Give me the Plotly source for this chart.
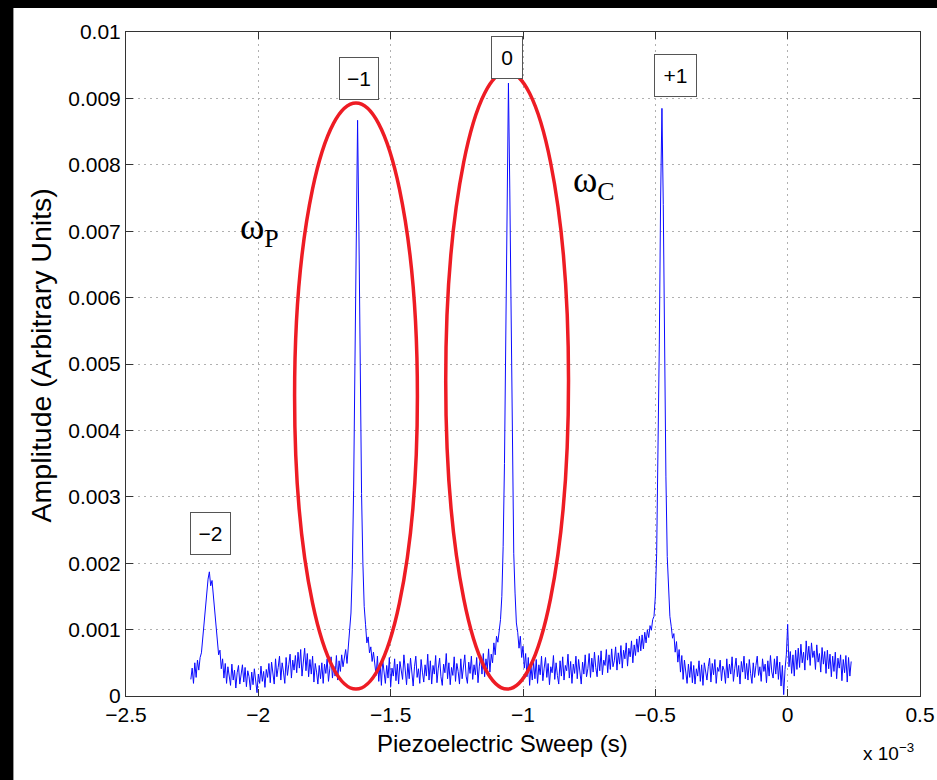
import numpy as np
import plotly.graph_objects as go

# ---------------- data ----------------
# sweep axis sampling (units of 1e-3 s)
x_start = -2.255
x_step = 0.005

# amplitude, in units of 1e-4 (arbitrary units)
amp_e4 = [
    2.5, 4.2, 1.9, 5.0, 2.8, 5.4, 3.9, 5.8, 6.5, 8.7, 11.0, 13.8, 16.0, 17.6, 18.7, 16.6, 17.4, 15.2, 12.6, 10.0,
    8.0, 6.2, 6.9, 4.1, 5.6, 2.7, 4.9, 1.9, 4.4, 3.1, 1.6, 4.8, 2.4, 3.9, 1.2, 3.5, 4.6, 1.8, 3.0, 4.7,
    2.1, 4.3, 1.4, 3.8, 2.9, 0.9, 3.6, 1.7, 4.1, 2.5, 0.5, 3.3, 1.9, 4.5, 2.2, 3.7, 1.3, 4.0, 2.8, 4.9,
    2.0, 5.1, 3.3, 1.8, 5.6, 2.9, 4.3, 6.0, 2.4, 5.0, 3.6, 1.9, 5.8, 3.1, 4.7, 6.3, 2.7, 5.4, 3.9, 6.1,
    3.5, 6.6, 4.2, 7.0, 3.0, 5.9, 7.2, 3.8, 6.4, 2.9, 5.5, 3.3, 6.0, 2.1, 4.9, 3.6, 1.8, 4.6, 2.6, 5.0,
    1.9, 4.8, 3.4, 5.6, 2.2, 4.1, 5.9, 2.7, 4.5, 3.0, 6.1, 2.4, 5.3, 3.7, 6.2, 4.4, 5.5, 7.0, 4.9, 7.6,
    9.0, 12.5, 19.0, 31.0, 50.0, 72.0, 86.7, 70.0, 49.0, 30.5, 20.0, 13.5, 10.8, 8.0, 8.9, 6.5, 7.4, 5.2, 6.6, 4.5,
    3.1, 6.0, 2.2, 4.9, 1.6, 5.4, 3.5, 1.9, 4.6, 2.7, 5.8, 1.4, 4.2, 3.0, 5.6, 2.3, 4.8, 1.8, 5.2, 3.4,
    2.5, 6.2, 3.8, 1.7, 4.9, 2.6, 5.7, 3.2, 1.5, 4.4, 6.0, 2.8, 4.1, 1.9, 5.5, 3.6, 2.1, 4.7, 3.0, 6.3,
    2.4, 5.3, 1.8, 4.6, 3.3, 6.1, 2.0, 4.2, 5.7, 2.9, 1.6, 4.8, 3.5, 6.4, 2.6, 5.0, 1.7, 4.3, 3.1, 5.9,
    2.2, 4.9, 3.7, 1.8, 5.6, 2.6, 4.4, 6.2, 3.0, 1.9, 5.1, 3.4, 6.0, 2.5, 4.7, 3.2, 5.8, 2.0, 4.5, 6.1,
    3.3, 6.4, 2.9, 5.6, 4.0, 7.1, 3.6, 6.3, 5.0, 8.0, 6.2, 9.0, 8.1, 10.2, 11.5, 15.0, 22.5, 35.0, 55.0, 78.0,
    92.3, 76.5, 54.0, 34.0, 21.5, 15.5, 11.0, 9.6, 7.2, 9.0, 5.8, 7.5, 4.2, 6.4, 2.9, 5.8, 1.6, 4.5, 2.4, 5.1,
    2.6, 5.5, 1.9, 4.7, 3.2, 6.0, 2.3, 4.2, 5.8, 2.8, 4.9, 1.7, 4.4, 3.5, 6.1, 2.5, 5.0, 3.1, 1.8, 5.3,
    3.0, 5.9, 2.4, 4.6, 3.8, 6.3, 2.7, 5.2, 1.9, 4.8, 3.4, 6.0, 2.6, 5.5, 3.9, 1.8, 5.1, 3.3, 6.2, 2.9,
    4.1, 6.4, 2.8, 5.7, 3.6, 6.6, 4.3, 2.9, 6.1, 3.8, 6.8, 3.2, 5.4, 4.6, 7.0, 3.5, 6.2, 4.0, 7.1, 4.4,
    5.3, 7.4, 3.9, 6.5, 4.8, 7.6, 4.2, 6.9, 5.6, 8.0, 4.5, 7.2, 5.9, 8.3, 5.0, 7.7, 6.1, 8.6, 6.6, 9.0,
    6.8, 9.2, 7.1, 9.6, 8.0, 10.0, 8.8, 10.6, 9.9, 11.5, 12.0, 15.0, 21.5, 34.0, 53.0, 75.0, 88.5, 74.0, 52.0, 33.0,
    21.0, 15.0, 12.0, 10.5, 8.7, 9.4, 6.6, 8.2, 5.1, 7.0, 3.6, 6.1, 2.5, 5.4, 3.3, 1.9, 4.8, 2.8, 5.2, 2.0,
    4.6, 1.8, 4.1, 3.0, 5.3, 2.2, 4.7, 1.6, 5.0, 3.5, 2.4, 4.4, 5.7, 2.1, 4.9, 3.2, 5.5, 1.9, 4.3, 3.7,
    5.4, 2.3, 4.5, 3.9, 1.9, 5.6, 2.7, 4.8, 3.3, 5.9, 2.2, 4.1, 5.7, 2.9, 4.6, 1.8, 5.2, 3.6, 6.0, 2.6,
    4.9, 2.4, 5.5, 3.4, 1.9, 5.0, 2.8, 4.6, 6.0, 3.1, 4.4, 2.2, 5.6, 3.7, 4.8, 2.0, 5.3, 3.0, 6.1, 3.6,
    2.7, 5.6, 3.3, 6.0, 2.5, 5.1, 1.5, 4.6, 0.2, 4.0, 6.2, 10.8, 4.4, 6.7, 3.4, 6.2, 3.0, 6.9, 4.0, 7.2,
    4.3, 7.8, 5.0, 6.6, 3.9, 8.3, 5.4, 7.5, 4.6, 8.0, 5.8, 6.8, 4.0, 7.7, 5.1, 6.4, 3.6, 7.3, 4.8, 6.7,
    3.4, 6.9, 4.1, 6.3, 2.9, 6.0, 3.7, 6.6, 2.6, 5.7, 4.2, 6.2, 2.3, 5.5, 3.5, 6.1, 2.1, 5.8, 3.0, 5.2,
]

x_ticks = [-2.5, -2, -1.5, -1, -0.5, 0, 0.5]
x_ticklabels = ["−2.5", "−2", "−1.5", "−1", "−0.5", "0", "0.5"]
y_ticks = [0, 0.001, 0.002, 0.003, 0.004, 0.005, 0.006, 0.007, 0.008, 0.009, 0.01]
y_ticklabels = ["0", "0.001", "0.002", "0.003", "0.004", "0.005",
                "0.006", "0.007", "0.008", "0.009", "0.01"]

peak_labels = ["−2", "−1", "0", "+1"]
peak_label_x = [-2.181, -1.620, -1.061, -0.424]
peak_label_y = [0.00245, 0.0093, 0.00962, 0.00935]
peak_label_w = [25, 24, 16, 27]

ellipse_x0 = [-1.863, -1.292]
ellipse_x1 = [-1.399, -0.828]
ellipse_y0 = [0.000105, 0.000105]
ellipse_y1 = [0.00893, 0.0094]

omega_labels = ["ω<sub>P</sub>", "ω<sub>C</sub>"]
omega_x = [-1.994, -0.732]
omega_y = [0.00703, 0.00774]

# ---------------- figure ----------------
x_vals = np.round(x_start + x_step * np.arange(len(amp_e4)), 3)
amp = np.array(amp_e4) * 1e-4

K = 947 / 937          # horizontal compensation for the capture
W, H = 947, 780
ML, MT, MB = 126, 32, 84
MR = W - 929
PW, PH = W - ML - MR, H - MT - MB


def px(p):
    return (p * K - ML) / PW


def py(p):
    return (H - MB - p) / PH


fig = go.Figure()
fig.add_trace(go.Scatter(x=x_vals, y=amp, mode="lines",
                         line=dict(color="#0a0aff", width=1),
                         showlegend=False, hoverinfo="skip"))

shapes = []
for a, b, c, d in zip(ellipse_x0, ellipse_x1, ellipse_y0, ellipse_y1):
    shapes.append(dict(type="circle", xref="x", yref="y", x0=a, x1=b, y0=c, y1=d,
                       line=dict(color="#ee1c24", width=3.5), layer="above"))
# black surround of the original screenshot
shapes.append(dict(type="rect", xref="paper", yref="paper",
                   x0=px(-2), x1=px(12), y0=py(H + 2), y1=py(-2),
                   fillcolor="black", line=dict(width=0), layer="above"))
shapes.append(dict(type="rect", xref="paper", yref="paper",
                   x0=px(-2), x1=px(W + 12), y0=py(8), y1=py(-2),
                   fillcolor="black", line=dict(width=0), layer="above"))

ann = []
for t, xx, yy, ww in zip(peak_labels, peak_label_x, peak_label_y, peak_label_w):
    ann.append(dict(x=xx, y=yy, xref="x", yref="y", text=t, showarrow=False,
                    font=dict(family="Liberation Sans", size=21, color="black"),
                    bordercolor="#555", borderwidth=1, borderpad=7,
                    width=ww, height=27, bgcolor="white",
                    xanchor="center", yanchor="middle"))
for t, xx, yy in zip(omega_labels, omega_x, omega_y):
    ann.append(dict(x=xx, y=yy, xref="x", yref="y", text=t, showarrow=False,
                    font=dict(family="Liberation Serif", size=37, color="black"),
                    xanchor="center", yanchor="middle"))
ann.append(dict(x=px(40), y=py(355), xref="paper", yref="paper",
                text="Amplitude (Arbitrary Units)", textangle=-90, showarrow=False,
                font=dict(family="Liberation Sans", size=28.5, color="black"),
                xanchor="center", yanchor="middle"))
ann.append(dict(x=px(501), y=py(743), xref="paper", yref="paper",
                text="Piezoelectric Sweep (s)", showarrow=False,
                font=dict(family="Liberation Sans", size=24, color="black"),
                xanchor="center", yanchor="middle"))
ann.append(dict(x=px(888), y=py(752), xref="paper", yref="paper",
                text="x 10<sup>−3</sup>", showarrow=False,
                font=dict(family="Liberation Sans", size=19, color="black"),
                xanchor="center", yanchor="middle"))

axis_common = dict(showline=True, linecolor="#333", linewidth=1, mirror="ticks",
                   ticks="inside", ticklen=7, tickcolor="#333",
                   showgrid=True, gridcolor="#b0b0b0", griddash="2px,4px", gridwidth=1,
                   zeroline=False,
                   tickfont=dict(family="Liberation Sans", size=21, color="black"))

fig.update_layout(
    width=W, height=H,
    margin=dict(l=ML, r=MR, t=MT, b=MB),
    paper_bgcolor="white", plot_bgcolor="white",
    xaxis=dict(range=[-2.5, 0.5], tickvals=x_ticks, ticktext=x_ticklabels, **axis_common),
    yaxis=dict(range=[0, 0.01], tickvals=y_ticks, ticktext=y_ticklabels, **axis_common),
    shapes=shapes, annotations=ann,
)

fig.write_html(
    "out.html",
    config={"displayModeBar": False},
    post_script="document.body.style.margin='0';document.body.style.overflow='hidden';",
)
